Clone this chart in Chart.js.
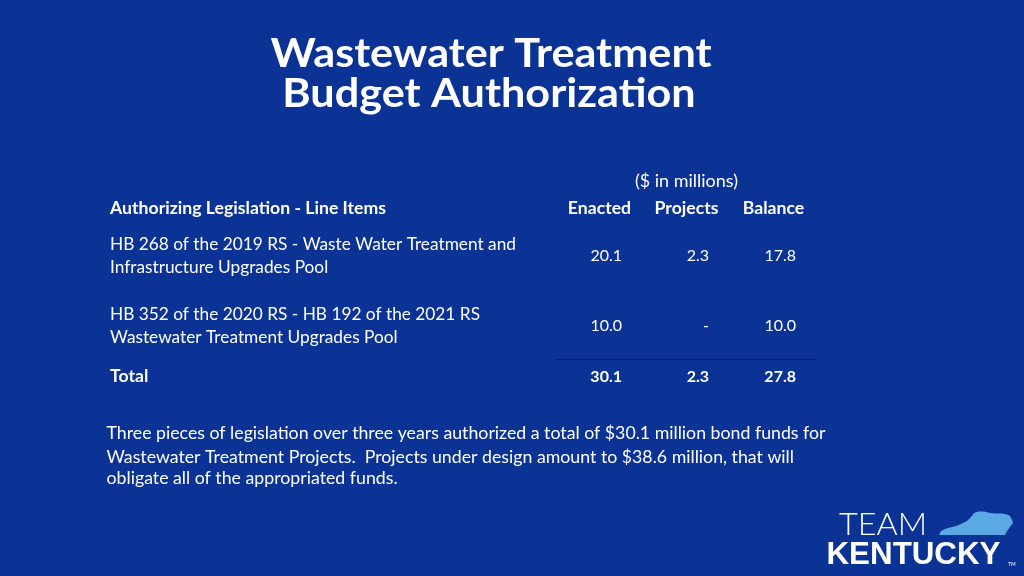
<!DOCTYPE html>
<html>
<head>
<meta charset="utf-8">
<style>
  html, body { margin: 0; padding: 0; background: #0b3395; }
  #wrap { width: 1024px; height: 576px; position: relative; }
  canvas { display: block; }
</style>
<script src="https://cdn.jsdelivr.net/npm/chart.js@4"></script>
</head>
<body>
<div id="wrap"><canvas id="c" width="1024" height="576"></canvas></div>
<script>
// ---------- DATA ----------
const titleLines = ['Wastewater Treatment', 'Budget Authorization'];
const unitsLabel = '($ in millions)';
const rowHeader = 'Authorizing Legislation - Line Items';
const columns = ['Enacted', 'Projects', 'Balance'];
const categories = [
  ['HB 268 of the 2019 RS - Waste Water Treatment and', 'Infrastructure Upgrades Pool'],
  ['HB 352 of the 2020 RS - HB 192 of the 2021 RS', 'Wastewater Treatment Upgrades Pool'],
  ['Total']
];
const enacted  = [20.1, 10.0, 30.1];
const projects = [2.3, null, 2.3];
const balance  = [17.8, 10.0, 27.8];
const noteLines = [
  'Three pieces of legislation over three years authorized a total of $30.1 million bond funds for',
  'Wastewater Treatment Projects.  Projects under design amount to $38.6 million, that will',
  'obligate all of the appropriated funds.'
];

// ---------- STYLE ----------
const BG = '#0b3395';
const WHITE = '#ffffff';
const FONT = "Lato, 'Open Sans', sans-serif";
const rowNudge = [0, 0, -19.3];      // table row height differences
const totalRowIndex = 2;
const rowKeys = categories.map(l => l.join(' '));

function drawText(ctx, text, x, y, font, align, sx) {
  ctx.save();
  ctx.font = font;
  ctx.textAlign = align || 'left';
  ctx.textBaseline = 'alphabetic';
  ctx.translate(x, y);
  ctx.scale(sx || 1, 1);
  ctx.fillText(text, 0, 0);
  ctx.restore();
}
function fitFactor(ctx, text, font, width) {
  ctx.save(); ctx.font = font;
  const w = ctx.measureText(text).width;
  ctx.restore();
  return width / w;
}

const slidePlugin = {
  id: 'slide',
  beforeDraw(chart) {
    const ctx = chart.ctx;
    ctx.save();
    ctx.fillStyle = BG;
    ctx.fillRect(0, 0, chart.width, chart.height);
    ctx.restore();
  },
  afterDatasetsDraw(chart) {
    const ctx = chart.ctx;
    const xs = chart.scales.x, ys = chart.scales.y, area = chart.chartArea;
    ctx.save();
    ctx.fillStyle = WHITE;

    // Title
    const tFont = 'bold 40px ' + FONT;
    const tS = fitFactor(ctx, titleLines[0], tFont, 441);
    drawText(ctx, titleLines[0], 491, 67, tFont, 'center', tS);
    drawText(ctx, titleLines[1], 489, 107, tFont, 'center', tS);

    const rFont = '16.5px ' + FONT;
    const bFont = 'bold 16.5px ' + FONT;
    const rS = fitFactor(ctx, categories[0][0], rFont, 406);
    const bS = fitFactor(ctx, rowHeader, bFont, 276);

    // Header row
    const rowCenter = i => ys.getPixelForValue(i) + rowNudge[i];
    const headY = rowCenter(0) - 40.7;
    drawText(ctx, rowHeader, 110, headY, bFont, 'left', bS);
    columns.forEach((c, j) => drawText(ctx, c, xs.getPixelForValue(j), headY, bFont, 'center', bS));
    drawText(ctx, unitsLabel, xs.getPixelForValue(1), headY - 27.3, rFont, 'center', rS * 1.04);

    // Row labels
    categories.forEach((lines, i) => {
      const cy = rowCenter(i);
      const bold = i === totalRowIndex;
      const f = bold ? bFont : rFont;
      const s = bold ? bS : rS;
      if (lines.length === 1) {
        drawText(ctx, lines[0], 110, cy + 6, f, 'left', s);
      } else {
        drawText(ctx, lines[0], 110, cy - 5.4, f, 'left', s);
        drawText(ctx, lines[1], 110, cy + 18, f, 'left', s);
      }
    });

    // Separator line above total
    const sepY = Math.round((rowCenter(1) + rowCenter(2)) / 2 + 9) + 0.5;
    ctx.strokeStyle = '#0a1b52';
    ctx.lineWidth = 1;
    ctx.beginPath();
    ctx.moveTo(area.left, sepY);
    ctx.lineTo(area.right, sepY);
    ctx.stroke();

    // Cell values (positions from the chart's own point elements)
    const colHalf = (xs.getPixelForValue(1) - xs.getPixelForValue(0)) / 2;
    chart.data.datasets.forEach((ds, di) => {
      const meta = chart.getDatasetMeta(di);
      meta.data.forEach((pt, i) => {
        const v = ds.data[i].v;
        const txt = v == null ? '-' : v.toFixed(1);
        const bold = i === totalRowIndex;
        const f = (bold ? 'bold ' : '') + '16px ' + FONT;
        drawText(ctx, txt, pt.x + colHalf - 21, pt.y + rowNudge[i] + 6, f, 'right');
      });
    });

    // Note paragraph
    const nFont = '17px ' + FONT;
    const nS = fitFactor(ctx, noteLines[0], nFont, 719);
    drawText(ctx, noteLines[0], 106.5, 439, nFont, 'left', nS);
    drawText(ctx, noteLines[1], 106.5, 462.5, nFont, 'left', nS);
    drawText(ctx, noteLines[2], 106.5, 484, nFont, 'left', nS);

    // Logo
    const teamFont = '300 31px ' + FONT;
    drawText(ctx, 'TEAM', 839, 535, teamFont, 'left', fitFactor(ctx, 'TEAM', teamFont, 88));
    const kyFont = "bold 32px 'Liberation Sans', Arial, sans-serif";
    drawText(ctx, 'KENTUCKY', 826.5, 564, kyFont, 'left', fitFactor(ctx, 'KENTUCKY', kyFont, 174));
    drawText(ctx, 'TM', 1008, 566, '5px ' + FONT, 'left');
    const ky = [[939,535],[941,531],[945,529],[950,527.5],[956,526],[962,523.5],[967,521],[971,517],
      [974,513],[978,511.5],[984,511.5],[990,513],[996,513.5],[1002,513.5],[1007,514.5],[1010,516],
      [1012,520],[1013,523],[1010,527],[1007,531],[1005,535]];
    ctx.fillStyle = '#5aa8e4';
    ctx.beginPath();
    ky.forEach((p, k) => k ? ctx.lineTo(p[0], p[1]) : ctx.moveTo(p[0], p[1]));
    ctx.closePath();
    ctx.fill();
    ctx.restore();
  }
};

const mk = (arr, col) => arr.map((v, i) => ({ x: columns[col], y: rowKeys[i], v }));

new Chart(document.getElementById('c'), {
  type: 'scatter',
  data: {
    datasets: [
      { label: columns[0], data: mk(enacted, 0) },
      { label: columns[1], data: mk(projects, 1) },
      { label: columns[2], data: mk(balance, 2) }
    ]
  },
  options: {
    responsive: false,
    devicePixelRatio: 1,
    animation: false,
    layout: { padding: { left: 556, right: 207, top: 220, bottom: 146 } },
    elements: { point: { radius: 0, hoverRadius: 0 } },
    scales: {
      x: { type: 'category', labels: columns, offset: true, display: false },
      y: { type: 'category', labels: rowKeys, offset: true, display: false }
    },
    plugins: { legend: { display: false }, tooltip: { enabled: false }, title: { display: false } }
  },
  plugins: [slidePlugin]
});
</script>
</body>
</html>
